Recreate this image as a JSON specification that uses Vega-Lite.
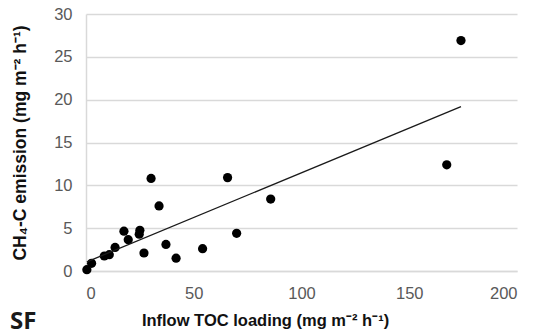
{
  "$schema": "https://vega.github.io/schema/vega-lite/v6.json",
  "width": 431,
  "height": 257,
  "autosize": {"type": "none"},
  "padding": {"left": 86, "top": 14, "right": 18, "bottom": 65},
  "background": "white",
  "title": {
    "text": "SF",
    "orient": "bottom",
    "anchor": "start",
    "frame": "group",
    "font": "Open Sans",
    "fontSize": 24,
    "fontWeight": "bold",
    "color": "#1a1a1a",
    "offset": 10,
    "dx": -76,
    "dy": -29
  },
  "config": {
    "view": {"stroke": null},
    "axis": {
      "labelFont": "Liberation Sans",
      "labelFontSize": 16.5,
      "labelColor": "#595959",
      "titleFont": "Liberation Sans",
      "titleFontSize": 16.5,
      "titleFontWeight": "bold",
      "titleColor": "#111111",
      "gridColor": "#d9d9d9",
      "gridWidth": 1.5,
      "domainColor": "#d9d9d9",
      "domainWidth": 1.5,
      "ticks": false
    }
  },
  "data": {
    "values": [
      {"toc": 0.4, "ch4": 0.15},
      {"toc": 2.6, "ch4": 0.9},
      {"toc": 8.5, "ch4": 1.75},
      {"toc": 10.8, "ch4": 1.9},
      {"toc": 13.5, "ch4": 2.75},
      {"toc": 17.6, "ch4": 4.65},
      {"toc": 19.6, "ch4": 3.65},
      {"toc": 25.0, "ch4": 4.75},
      {"toc": 24.7, "ch4": 4.3},
      {"toc": 26.9, "ch4": 2.1},
      {"toc": 30.2, "ch4": 10.8},
      {"toc": 33.9, "ch4": 7.6},
      {"toc": 37.1, "ch4": 3.1},
      {"toc": 41.8, "ch4": 1.5},
      {"toc": 54.1, "ch4": 2.6},
      {"toc": 65.7, "ch4": 10.9},
      {"toc": 69.9, "ch4": 4.4},
      {"toc": 85.7, "ch4": 8.4},
      {"toc": 167.4, "ch4": 12.4},
      {"toc": 174.0, "ch4": 26.9}
    ]
  },
  "encoding": {
    "x": {
      "field": "toc",
      "type": "quantitative",
      "scale": {"domain": [0, 200], "nice": false},
      "axis": {
        "values": [0, 50, 100, 150, 200],
        "grid": false,
        "labelPadding": 14,
        "title": "Inflow TOC loading (mg m⁻² h⁻¹)",
        "titlePadding": 11,
        "titleX": 179
      }
    },
    "y": {
      "field": "ch4",
      "type": "quantitative",
      "scale": {"domain": [0, 30], "nice": false},
      "axis": {
        "values": [0, 5, 10, 15, 20, 25, 30],
        "labelPadding": 14,
        "title": "CH₄-C emission (mg m⁻² h⁻¹)",
        "titleFontSize": 17.5,
        "titlePadding": 24
      }
    }
  },
  "layer": [
    {
      "mark": {"type": "circle", "size": 85, "color": "#000000", "opacity": 1}
    },
    {
      "transform": [{"regression": "ch4", "on": "toc"}],
      "mark": {"type": "line", "color": "#1a1a1a", "strokeWidth": 1.3}
    }
  ]
}
